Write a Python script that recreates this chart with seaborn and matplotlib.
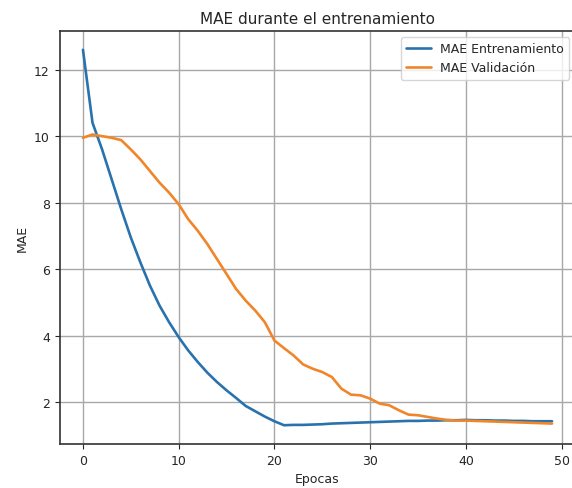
import matplotlib
matplotlib.use("Agg")
import matplotlib.pyplot as plt
import seaborn as sns
import pandas as pd
import numpy as np

epochs = list(range(50))
mae_train = [12.6, 10.4, 9.6, 8.7, 7.8, 6.95, 6.2, 5.5, 4.9, 4.4,
             3.95, 3.55, 3.2, 2.88, 2.6, 2.35, 2.12, 1.88, 1.72, 1.56,
             1.42, 1.3, 1.31, 1.31, 1.32, 1.33, 1.35, 1.36, 1.37, 1.38,
             1.39, 1.4, 1.41, 1.42, 1.43, 1.43, 1.44, 1.44, 1.45, 1.45,
             1.46, 1.45, 1.45, 1.44, 1.44, 1.43, 1.43, 1.42, 1.42, 1.42]
mae_val = [9.95, 10.05, 10.0, 9.95, 9.88, 9.6, 9.3, 8.95, 8.6, 8.3,
           7.95, 7.5, 7.15, 6.75, 6.3, 5.85, 5.4, 5.05, 4.75, 4.4,
           3.85, 3.62, 3.4, 3.13, 3.0, 2.9, 2.75, 2.4, 2.22, 2.2,
           2.1, 1.95, 1.9, 1.75, 1.62, 1.6, 1.55, 1.5, 1.46, 1.44,
           1.44, 1.43, 1.42, 1.41, 1.4, 1.39, 1.38, 1.37, 1.36, 1.35]
labels = ["MAE Entrenamiento", "MAE Validación"]

df = pd.DataFrame({
    "Epocas": epochs * 2,
    "MAE": mae_train + mae_val,
    "serie": [labels[0]] * 50 + [labels[1]] * 50,
})

sns.set_style("ticks")
plt.rcParams['font.family'] = ['DejaVu Sans']

fig = plt.figure(figsize=(5.72, 4.89), dpi=100)
ax = fig.add_axes([59.5 / 572, 44 / 489, 516 / 572, 413 / 489])
sns.lineplot(data=df, x="Epocas", y="MAE", hue="serie",
             palette=["#2a72ad", "#f0852a"], linewidth=1.9, ax=ax)
ax.set_ylim(0.735, 13.165)
ax.set_xlim(-2.45, 51.45)
ax.set_xticks([0, 10, 20, 30, 40, 50])
ax.set_yticks([2, 4, 6, 8, 10, 12])
ax.grid(True, color="#a8a8a8", linewidth=1.0)
ax.set_title("MAE durante el entrenamiento", fontsize=11)
ax.set_xlabel("Epocas", fontsize=9)
ax.set_ylabel("MAE", fontsize=9)
ax.tick_params(labelsize=9, direction="out", length=3.5)
for s in ax.spines.values():
    s.set_linewidth(1.2)
    s.set_color("#333333")
ax.spines["right"].set_visible(False)
leg = ax.legend(loc="upper right", fontsize=9, title=None, frameon=True)
fig.savefig("out.png", dpi=100)
